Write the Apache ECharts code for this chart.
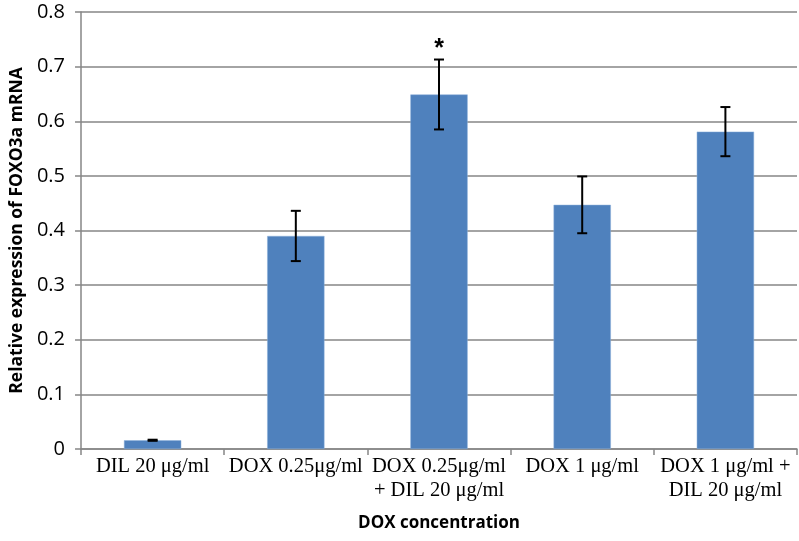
<!DOCTYPE html>
<html>
<head>
<meta charset="utf-8">
<script src="https://cdn.jsdelivr.net/npm/echarts@6/dist/echarts.min.js"></script>
<style>html,body{margin:0;padding:0;background:#fff}#c{width:799px;height:541px}</style>
</head>
<body>
<div id="c"></div>
<script>
var categories = ['DIL 20 μg/ml', 'DOX 0.25μg/ml', 'DOX 0.25μg/ml\n+ DIL 20 μg/ml', 'DOX 1 μg/ml', 'DOX 1 μg/ml +\nDIL 20 μg/ml'];
var values = [0.016, 0.39, 0.649, 0.447, 0.581];
var errors = [0.001, 0.046, 0.064, 0.052, 0.045];
var marks = ['', '', '*', '', ''];
var yTicks = [0, 0.1, 0.2, 0.3, 0.4, 0.5, 0.6, 0.7, 0.8];

var errData = values.map(function (v, i) { return [i, v - errors[i], v + errors[i], marks[i]]; });

var chart = echarts.init(document.getElementById('c'));
chart.setOption({
  animation: false,
  grid: { left: 74, right: 2, top: 12, bottom: 92 },
  xAxis: {
    type: 'category',
    data: categories,
    name: 'DOX concentration',
    nameLocation: 'middle',
    nameGap: 66,
    nameTextStyle: { fontFamily: 'Open Sans', fontWeight: 'bold', fontSize: 17, color: '#000' },
    axisLine: { lineStyle: { color: '#868686', width: 1.5 } },
    axisTick: { show: true, length: 6, lineStyle: { color: '#868686', width: 1.5 } },
    axisLabel: { interval: 0, fontFamily: 'Liberation Serif', fontSize: 20.5, color: '#000', margin: 6, lineHeight: 24 }
  },
  yAxis: {
    type: 'value',
    min: 0, max: 0.8, interval: 0.1,
    name: 'Relative expression of FOXO3a mRNA',
    nameLocation: 'middle',
    nameGap: 50,
    nameTextStyle: { fontFamily: 'Open Sans', fontWeight: 'bold', fontSize: 17.5, color: '#000' },
    axisLine: { show: true, lineStyle: { color: '#868686', width: 1.5 } },
    axisTick: { show: true, length: 6, lineStyle: { color: '#868686', width: 1.5 } },
    splitLine: { lineStyle: { color: '#868686', width: 1.5 } },
    axisLabel: {
      fontFamily: 'Open Sans', fontSize: 20, color: '#000', margin: 16,
      formatter: function (v) {
        for (var i = 0; i < yTicks.length; i++) { if (Math.abs(yTicks[i] - v) < 1e-9) return String(yTicks[i]); }
        return '';
      }
    }
  },
  series: [
    {
      type: 'bar',
      data: values,
      barWidth: '40%',
      itemStyle: { color: '#4F81BD', borderColor: '#8DB0DA', borderWidth: 0.5 }
    },
    {
      type: 'custom',
      data: errData,
      z: 10,
      renderItem: function (params, api) {
        var x = api.value(0);
        var lo = api.coord([x, api.value(1)]);
        var hi = api.coord([x, api.value(2)]);
        var cap = 5;
        var style = { stroke: '#000', lineWidth: 2 };
        var children = [
          { type: 'line', shape: { x1: lo[0], y1: lo[1], x2: hi[0], y2: hi[1] }, style: style },
          { type: 'line', shape: { x1: lo[0] - cap, y1: lo[1], x2: lo[0] + cap, y2: lo[1] }, style: style },
          { type: 'line', shape: { x1: hi[0] - cap, y1: hi[1], x2: hi[0] + cap, y2: hi[1] }, style: style }
        ];
        var m = api.value(3);
        if (m) {
          children.push({ type: 'text', style: { text: m, x: hi[0], y: hi[1] + 2, textAlign: 'center', textVerticalAlign: 'bottom', font: 'bold 25px "Liberation Sans"', fill: '#000' } });
        }
        return { type: 'group', children: children };
      }
    }
  ]
});
</script>
</body>
</html>
